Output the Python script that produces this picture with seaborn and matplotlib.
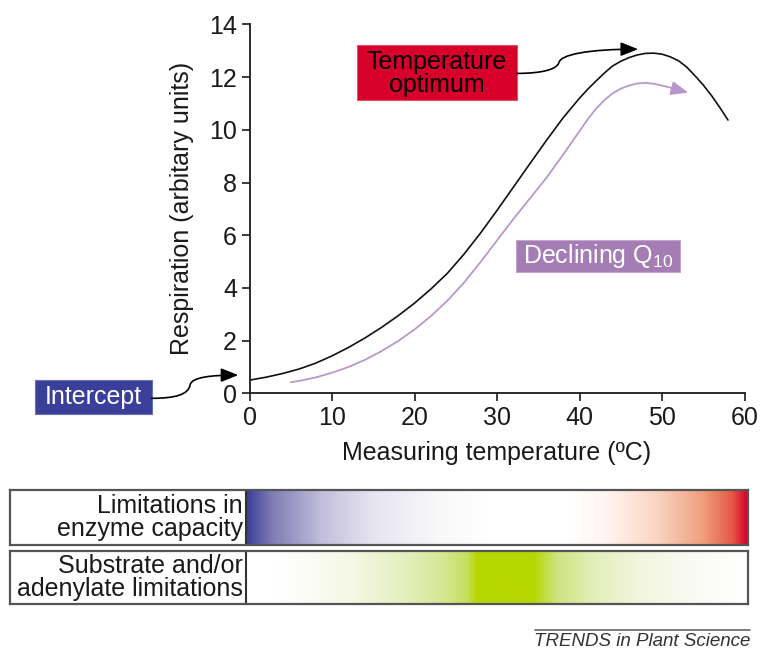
import numpy as np
import pandas as pd
import matplotlib
matplotlib.use("Agg")
import matplotlib.pyplot as plt
import seaborn as sns
from matplotlib.patches import Rectangle, FancyArrowPatch
from matplotlib.path import Path
from matplotlib.colors import LinearSegmentedColormap
from matplotlib.lines import Line2D

# ---------------- data ----------------
temp_black = [0, 2, 4, 6, 8, 10, 12, 14, 16, 18, 20, 22, 24, 26, 28, 30, 32, 34, 36,
              38, 40, 41, 42, 43, 44, 45, 46, 47, 48, 49, 50, 51, 52, 53, 54, 55, 56,
              57, 58]
resp_black = [0.50, 0.61, 0.75, 0.92, 1.14, 1.42, 1.74, 2.10, 2.50, 2.94, 3.42, 3.96,
              4.56, 5.28, 6.08, 6.94, 7.83, 8.72, 9.60, 10.45, 11.20, 11.54, 11.85,
              12.15, 12.42, 12.60, 12.74, 12.84, 12.90, 12.91, 12.87, 12.77, 12.62,
              12.38, 12.05, 11.70, 11.30, 10.85, 10.37]

temp_purple = [5, 6, 8, 10, 12, 14, 16, 18, 20, 22, 24, 26, 28, 30, 32, 34, 36, 38,
               40, 41, 42, 43, 44, 45, 46, 47, 48, 49, 50, 51, 51.5]
resp_purple = [0.42, 0.47, 0.60, 0.78, 1.00, 1.27, 1.60, 1.98, 2.42, 2.93, 3.52, 4.20,
               4.98, 5.80, 6.62, 7.40, 8.18, 9.05, 9.95, 10.40, 10.80, 11.12, 11.38,
               11.56, 11.68, 11.76, 11.78, 11.75, 11.68, 11.60, 11.55]
purple_tip = (53.2, 11.41)

x_ticks = [0, 10, 20, 30, 40, 50, 60]
y_ticks = [0, 2, 4, 6, 8, 10, 12, 14]

x_label = "Measuring temperature (ºC)"
y_label = "Respiration (arbitary units)"
label_optimum = "Temperature\noptimum"
label_intercept = "Intercept"
label_q10 = "Declining Q$_{10}$"
band_labels = ["Limitations in\nenzyme capacity", "Substrate and/or\nadenylate limitations"]
footer = "TRENDS in Plant Science"

enzyme_stops = [(0.00, '#3A3F99'), (0.05, '#7F7CB3'), (0.15, '#C2BEDB'),
                (0.25, '#E6E4F0'), (0.38, '#F8F8FA'), (0.48, '#FFFFFF'),
                (0.64, '#FFFFFF'), (0.72, '#FFF5EF'), (0.82, '#FAD5C2'),
                (0.91, '#F0A080'), (0.97, '#E55A45'), (1.00, '#D7002A')]
substrate_stops = [(0.00, '#FFFFFF'), (0.06, '#FFFFFF'), (0.12, '#FBFCF5'),
                   (0.22, '#F3F7E2'), (0.32, '#E4EEBC'), (0.39, '#D6E795'),
                   (0.44, '#C6DF60'), (0.46, '#B6D700'), (0.573, '#B6D700'),
                   (0.62, '#CFE37F'), (0.687, '#E2EDB5'), (0.787, '#F2F6E0'),
                   (0.92, '#FBFCF7'), (1.00, '#FFFFFF')]

# ---------------- style ----------------
sns.set_style("ticks")
plt.rcParams['font.family'] = ['Liberation Sans', 'DejaVu Sans']
plt.rcParams['mathtext.fontset'] = 'custom'
plt.rcParams['mathtext.rm'] = 'Liberation Sans'
plt.rcParams['mathtext.it'] = 'Liberation Sans:italic'

W, H = 761, 653
fig = plt.figure(figsize=(W / 100, H / 100), dpi=100)
fig.patch.set_facecolor('white')

def fx(px):
    return px / W

def fy(py):
    return 1 - py / H

FS = 18
ax_left, ax_right, ax_bottom, ax_top = 249.5, 744.5, 393.3, 24.4
ax = fig.add_axes([fx(ax_left), fy(ax_bottom), fx(ax_right - ax_left), (ax_bottom - ax_top) / H])

black_df = pd.DataFrame({"temp": temp_black, "resp": resp_black})
purple_df = pd.DataFrame({"temp": temp_purple, "resp": resp_purple})

purple_line = '#B898CA'
sns.lineplot(data=black_df, x="temp", y="resp", ax=ax, color='#111111', lw=1.2, sort=False)
sns.lineplot(data=purple_df, x="temp", y="resp", ax=ax, color=purple_line, lw=1.3, sort=False)

ax.add_patch(FancyArrowPatch((temp_purple[-1], resp_purple[-1]), purple_tip,
                             arrowstyle='-|>,head_length=0.75,head_width=0.3',
                             mutation_scale=14, color=purple_line, lw=1.3,
                             shrinkA=0, shrinkB=0))

ax.set_xlim(0, 60)
ax.set_ylim(0, 14)
ax.set_xticks(x_ticks)
ax.set_yticks(y_ticks)
ax.tick_params(axis='both', direction='out', length=6, width=1.2, labelsize=FS,
               colors='#1a1a1a', pad=3)
for s in ['left', 'bottom']:
    ax.spines[s].set_linewidth(1.3)
    ax.spines[s].set_color('#1a1a1a')
for s in ['top', 'right']:
    ax.spines[s].set_visible(False)
ax.set_xlabel(x_label, fontsize=FS, color='#1a1a1a')
ax.set_ylabel(y_label, fontsize=FS, color='#1a1a1a')
ax.xaxis.set_label_coords(0.5, -0.130)
ax.yaxis.set_label_coords(-0.112, 0.5)

# Temperature optimum box
ax.add_patch(Rectangle((12.97, 11.13), 32.4 - 12.97, 13.22 - 11.13, facecolor='#D7002A',
                       edgecolor='#E8506A', lw=0.8, clip_on=False, zorder=3))
ax.text((12.97 + 32.4) / 2, 12.15, label_optimum, ha='center', va='center', fontsize=FS,
        color='black', linespacing=0.95, zorder=4)
p = Path([(32.4, 12.14), (35.5, 12.14), (37.3, 12.3), (37.5, 12.55),
          (37.7, 12.85), (41.0, 13.06), (47.1, 13.06)],
         [Path.MOVETO, Path.CURVE4, Path.CURVE4, Path.CURVE4, Path.CURVE4, Path.CURVE4, Path.CURVE4])
ax.add_patch(FancyArrowPatch(path=p, arrowstyle='-|>,head_length=0.75,head_width=0.3',
                             mutation_scale=14, color='black', lw=1.2, clip_on=False, zorder=4))

# Declining Q10 box
ax.add_patch(Rectangle((32.3, 4.6), 52.2 - 32.3, 5.81 - 4.6, facecolor='#A57DB5',
                       edgecolor='#C4A6D0', lw=0.8, clip_on=False, zorder=3))
ax.text((32.3 + 52.2) / 2, 5.2, label_q10, ha='center', va='center', fontsize=FS,
        color='white', zorder=4)

# Intercept box (outside the axes)
ax.add_patch(Rectangle((-26.0, -0.78), 26.0 - 11.8, 0.5 + 0.78, facecolor='#3A3F99',
                       edgecolor='#6A6FB8', lw=0.8, clip_on=False, zorder=3))
ax.text((-26.0 - 11.8) / 2, -0.14, label_intercept, ha='center', va='center', fontsize=FS,
        color='white', zorder=4, clip_on=False)
p2 = Path([(-11.85, -0.19), (-9.0, -0.19), (-7.4, -0.05), (-7.2, 0.32),
           (-7.0, 0.62), (-4.5, 0.69), (-1.36, 0.69)],
          [Path.MOVETO, Path.CURVE4, Path.CURVE4, Path.CURVE4, Path.CURVE4, Path.CURVE4, Path.CURVE4])
ax.add_patch(FancyArrowPatch(path=p2, arrowstyle='-|>,head_length=0.75,head_width=0.3',
                             mutation_scale=14, color='black', lw=1.2, clip_on=False, zorder=4))

# ---------------- bottom bands ----------------
box_l, box_r = 10, 748
divider = 246
bands = [(490, 545, enzyme_stops, band_labels[0]), (551, 604, substrate_stops, band_labels[1])]
for top, bot, stops, lab in bands:
    bax = fig.add_axes([fx(box_l), fy(bot), fx(box_r - box_l), (bot - top) / H])
    bax.set_xlim(0, 1)
    bax.set_ylim(0, 1)
    bax.set_xticks([])
    bax.set_yticks([])
    cmap = LinearSegmentedColormap.from_list('g', stops)
    grad = np.linspace(0, 1, 512)[None, :]
    d = (divider - box_l) / (box_r - box_l)
    bax.imshow(grad, cmap=cmap, aspect='auto', extent=[d, 1, 0, 1], interpolation='bilinear')
    bax.axvline(d, color='#333333', lw=1.5)
    for s in bax.spines.values():
        s.set_color('#555555')
        s.set_linewidth(1.6)
    bax.text(d - 0.004, 0.5, lab, ha='right', va='center', fontsize=FS, color='#1a1a1a',
             linespacing=0.92)

# footer
fig.add_artist(Line2D([fx(535), fx(750)], [fy(630), fy(630)], color='#666666', lw=1.2))
fig.text(fx(750), fy(642), footer, ha='right', va='center', fontsize=13.5,
         style='italic', color='#333333')

fig.savefig("out.png", dpi=100, facecolor='white')
